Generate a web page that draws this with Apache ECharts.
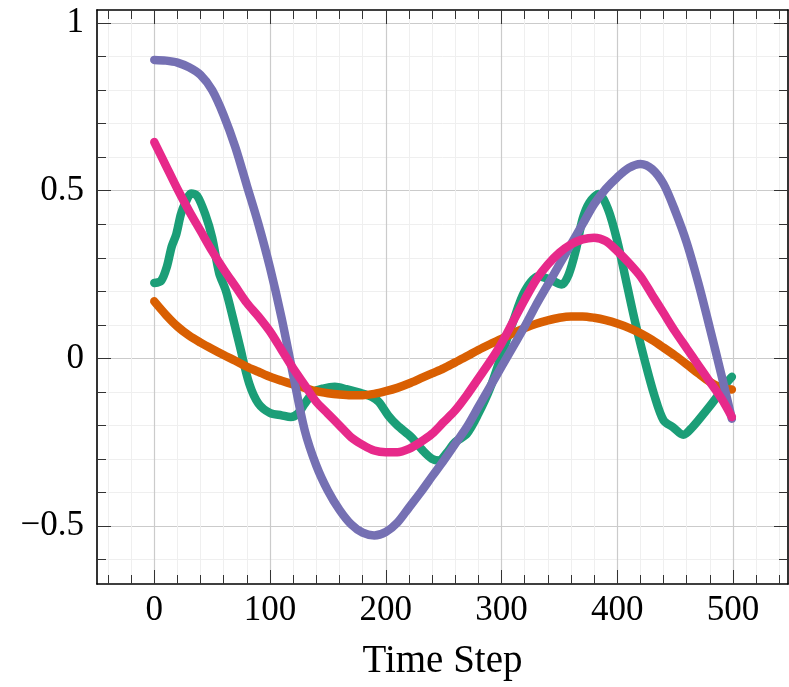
<!DOCTYPE html>
<html>
<head>
<meta charset="utf-8">
<script src="https://cdn.jsdelivr.net/npm/echarts@6/dist/echarts.min.js"></script>
<style>
  html, body { margin: 0; padding: 0; background: #fff; }
  #chart { width: 789px; height: 687px; }
</style>
</head>
<body>
<div id="chart"></div>
<script>
const steps = [0, 10, 20, 30, 40, 50, 60, 70, 80, 90, 100, 110, 120, 130, 140, 150, 160, 170, 180, 190,
  200, 210, 220, 230, 240, 250, 260, 270, 280, 290, 300, 310, 320, 330, 340, 350, 360, 370, 380, 390,
  400, 410, 420, 430, 440, 450, 460, 470, 480, 490, 499];

// the green curve wiggles, so it was read at its own steps
const greenSteps = [0, 6, 11, 15, 19, 23, 27, 32, 37, 44, 50, 56, 62, 68, 74, 82, 90, 100, 110, 118,
  124, 130, 138, 146, 156, 166, 178, 188, 194, 202, 210, 222, 232, 240, 246, 252, 260, 270, 280, 290,
  300, 310, 320, 332, 342, 352, 358, 364, 370, 376, 384, 392, 400, 408, 416, 424, 432, 440, 448, 457,
  465, 477, 486, 494, 499];
const green = [0.225, 0.232, 0.275, 0.333, 0.37, 0.43, 0.465, 0.492, 0.485, 0.43, 0.36, 0.255, 0.2, 0.12, 0.035, -0.075, -0.135, -0.163, -0.17, -0.175,
  -0.165, -0.135, -0.1, -0.09, -0.085, -0.092, -0.103, -0.115, -0.13, -0.17, -0.2, -0.235, -0.275, -0.3, -0.305, -0.285, -0.25, -0.225, -0.165, -0.09,
  0.01, 0.11, 0.2, 0.245, 0.235, 0.22, 0.25, 0.32, 0.415, 0.465, 0.49, 0.445, 0.35, 0.225, 0.1, -0.01, -0.11, -0.185, -0.205, -0.228,
  -0.205, -0.155, -0.115, -0.075, -0.055];

const orange = [0.17, 0.13, 0.095, 0.068, 0.047, 0.028, 0.01, -0.007, -0.025, -0.04,
  -0.055, -0.067, -0.078, -0.088, -0.098, -0.104, -0.108, -0.11, -0.11, -0.106,
  -0.098, -0.088, -0.075, -0.06, -0.045, -0.03, -0.012, 0.006, 0.025, 0.042,
  0.058, 0.075, 0.09, 0.103, 0.113, 0.121, 0.125, 0.125, 0.121, 0.114,
  0.104, 0.091, 0.075, 0.055, 0.032, 0.008, -0.018, -0.045, -0.07, -0.088, -0.093];

const purple = [0.89, 0.888, 0.882, 0.868, 0.845, 0.8, 0.725, 0.63, 0.515, 0.4,
  0.27, 0.12, -0.05, -0.215, -0.32, -0.395, -0.452, -0.495, -0.52, -0.528,
  -0.518, -0.49, -0.445, -0.4, -0.352, -0.305, -0.255, -0.205, -0.145, -0.085,
  -0.025, 0.035, 0.095, 0.16, 0.22, 0.28, 0.34, 0.4, 0.46, 0.505,
  0.54, 0.568, 0.58, 0.565, 0.52, 0.44, 0.345, 0.225, 0.09, -0.05, -0.18];

const pink = [0.645, 0.575, 0.505, 0.44, 0.38, 0.32, 0.265, 0.215, 0.165, 0.125,
  0.08, 0.025, -0.03, -0.08, -0.13, -0.165, -0.2, -0.235, -0.258, -0.275,
  -0.28, -0.28, -0.27, -0.25, -0.225, -0.19, -0.155, -0.11, -0.06, -0.01,
  0.045, 0.11, 0.175, 0.235, 0.28, 0.315, 0.34, 0.355, 0.36, 0.35,
  0.32, 0.285, 0.245, 0.19, 0.135, 0.08, 0.03, -0.02, -0.07, -0.12, -0.175];

const xMajor = [0, 100, 200, 300, 400, 500];
const xMinor = [-40, -20, 20, 40, 60, 80, 120, 140, 160, 180, 220, 240, 260, 280,
  320, 340, 360, 380, 420, 440, 460, 480, 520, 540];
const yMajor = [-0.5, 0, 0.5, 1];
const yMinor = [-0.6, -0.4, -0.3, -0.2, -0.1, 0.1, 0.2, 0.3, 0.4, 0.6, 0.7, 0.8, 0.9];

const xMin = -49.5, xMax = 547.5;
const yMin = -0.673, yMax = 1.039;

const FONT = "'Liberation Serif', 'DejaVu Serif', serif";
const colors = ['#1b9e77', '#d95f02', '#7570b3', '#e7298a'];

function minorAxis(pos, vals, grid) {
  const isX = pos === 'bottom' || pos === 'top';
  return {
    type: 'value', position: pos, min: isX ? xMin : yMin, max: isX ? xMax : yMax,
    axisLine: {show: false, onZero: false},
    axisTick: {show: true, inside: true, length: 9, customValues: vals, lineStyle: {color: '#333', width: 1}},
    axisLabel: {show: false, customValues: vals},
    splitLine: {show: grid, lineStyle: {color: '#efefef', width: 1}}
  };
}

function majorAxis(pos, vals, labels) {
  const isX = pos === 'bottom' || pos === 'top';
  return {
    type: 'value', position: pos, min: isX ? xMin : yMin, max: isX ? xMax : yMax,
    axisLine: {show: true, onZero: false, lineStyle: {color: '#000', width: 1.6}},
    axisTick: {show: true, inside: true, length: 14, customValues: vals, lineStyle: {color: '#333', width: 1}},
    axisLabel: {
      show: labels, customValues: vals, color: '#000', fontFamily: FONT, fontSize: 35,
      margin: isX ? 9 : 13,
      formatter: v => v < 0 ? '\u2212' + Math.abs(v) : String(v)
    },
    splitLine: {show: labels, lineStyle: {color: '#cbcbcb', width: 1.2}}
  };
}

const chart = echarts.init(document.getElementById('chart'));

const xBottom = majorAxis('bottom', xMajor, true);
xBottom.name = 'Time Step';
xBottom.nameLocation = 'middle';
xBottom.nameGap = 58;
xBottom.nameTextStyle = {color: '#000', fontFamily: FONT, fontSize: 39};

const names = ['green', 'orange', 'purple', 'pink'];
const xs = [greenSteps, steps, steps, steps];
const values = [green, orange, purple, pink];

chart.setOption({
  animation: false,
  backgroundColor: '#fff',
  grid: {left: 97, right: 1, top: 10, bottom: 103, containLabel: false},
  xAxis: [
    minorAxis('bottom', xMinor, true),
    minorAxis('top', xMinor, false),
    xBottom,
    majorAxis('top', xMajor, false)
  ],
  yAxis: [
    minorAxis('left', yMinor, true),
    minorAxis('right', yMinor, false),
    majorAxis('left', yMajor, true),
    majorAxis('right', yMajor, false)
  ],
  series: values.map((vals, i) => ({
    name: names[i],
    type: 'line',
    xAxisIndex: 2,
    yAxisIndex: 2,
    data: xs[i].map((t, j) => [t, vals[j]]),
    smooth: 0.3,
    showSymbol: false,
    lineStyle: {color: colors[i], width: 8.5, cap: 'round', join: 'round'},
    itemStyle: {color: colors[i]}
  }))
});
</script>
</body>
</html>
